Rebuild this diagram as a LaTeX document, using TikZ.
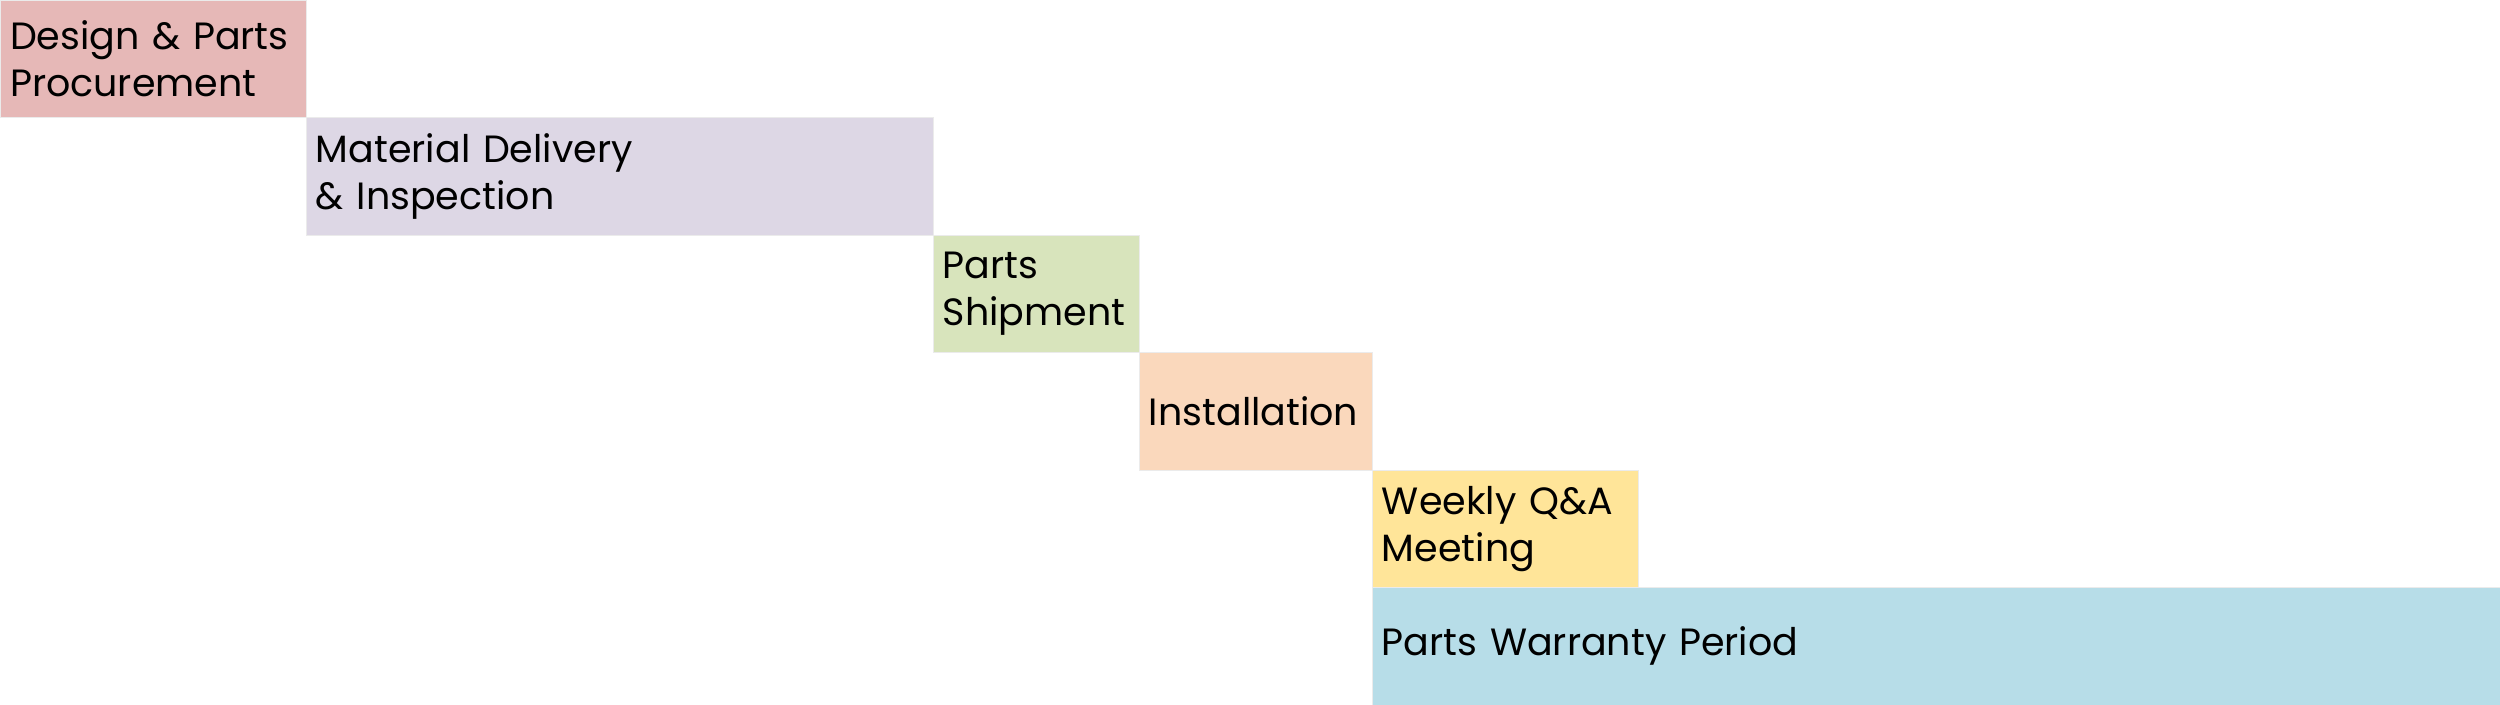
\documentclass[tikz,border=0pt]{standalone}
\usepackage{fontspec}
\setmainfont{Poppins}
\usepackage{tikz}
\usetikzlibrary{positioning}
\definecolor{designc}{HTML}{E6B8B7}
\definecolor{deliverc}{HTML}{DDD7E5}
\definecolor{shipc}{HTML}{D8E4BC}
\definecolor{installc}{HTML}{FAD8BC}
\definecolor{meetc}{HTML}{FFE599}
\definecolor{warrc}{HTML}{B7DDE8}
\begin{document}
\begin{tikzpicture}[x = .3pt, y = .3pt,
  phase/.style = {anchor = north west, minimum height = 35.25pt, inner xsep = 3pt,
    inner ysep = 0pt, outer sep = 0pt, align = left, draw = black!8, line width = .2pt,
    font = \fontsize{11.4}{14.1}\selectfont}]
\useasboundingbox (0,0) rectangle (2500,-705);
\node[phase, fill = designc, text width = 85.8pt] (design) at (0,0) {Design \& Parts\\Procurement};
\node[phase, fill = deliverc, text width = 182.1pt] (deliver) at (design.south east) {Material Delivery\\\& Inspection};
\node[phase, fill = shipc, text width = 55.8pt] (ship) at (deliver.south east) {Parts\\Shipment};
\node[phase, fill = installc, text width = 63.9pt] (install) at (ship.south east) {Installation};
\node[phase, fill = meetc, text width = 73.8pt] (meet) at (install.south east) {Weekly Q\&A\\Meeting};
\node[phase, fill = warrc, text width = 332.4pt] (warranty) at (meet.south west) {Parts Warranty Period};
\end{tikzpicture}
\end{document}
